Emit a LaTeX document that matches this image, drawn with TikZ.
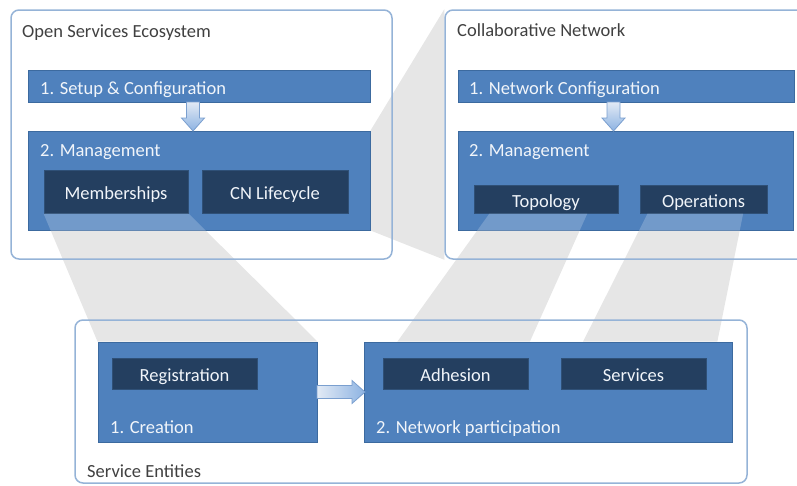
\documentclass[tikz,border=0pt]{standalone}
\usepackage{fontspec}
\setmainfont{Carlito}
\usetikzlibrary{calc,backgrounds}
\definecolor{cebox}{HTML}{4F81BD}
\definecolor{ceedge}{HTML}{3C6A9F}
\definecolor{cedark}{HTML}{243F60}
\definecolor{ceframe}{HTML}{95B3D7}
\definecolor{ceband}{HTML}{E6E6E6}
\definecolor{cetext}{HTML}{404040}
\definecolor{cearrowtop}{HTML}{E2EAF5}
\definecolor{cearrowbot}{HTML}{8DB3E2}
\definecolor{cearrowedge}{HTML}{7A9FCF}

\begin{document}
\begin{tikzpicture}[x=1pt, y=-1pt, font=\fontsize{18.5}{22}\selectfont,
    groupframe/.style={rectangle, draw=ceframe, line width=1.5pt, rounded corners=8pt, inner sep=0pt},
    stagebox/.style={rectangle, draw=ceedge, fill=cebox, line width=1pt, inner sep=0pt},
    taskbox/.style={rectangle, draw=cedark!75!cebox, fill=cedark, line width=1pt, inner sep=0pt,
        text=white!92!cebox, text height=16pt, text depth=0pt},
    grouptitle/.style={anchor=base west, inner sep=0pt, text=cetext},
    steplabel/.style={anchor=base west, inner sep=0pt, text=white!92!cebox},
    zoomband/.style={fill=ceband},
    bandlight/.style={fill=white, opacity=0.2},
    blockarrow/.style={draw=cearrowedge, line width=0.8pt, top color=cearrowtop, bottom color=cearrowbot}]

    \clip (0,0) rectangle (797,485);

    % Open Services Ecosystem
    \node[groupframe, minimum width=381pt, minimum height=249pt] (ose) at (201.5,134.5) {};
    \node[grouptitle] (osetitle) at (22,37) {Open Services Ecosystem};
    \node[stagebox, minimum width=342pt, minimum height=32pt] (osesetup) at (199,86) {};
    \node[steplabel] (osesetuplbl) at (40,94) {1. Setup \& Configuration};
    \node[stagebox, minimum width=342pt, minimum height=99pt] (osemgmt) at (199,180.5) {};
    \node[steplabel] (osemgmtlbl) at (40,156) {2. Management};

    % Collaborative Network
    \node[groupframe, minimum width=367pt, minimum height=249pt] (cnet) at (628.5,134.5) {};
    \node[grouptitle] (cnettitle) at (457,36) {Collaborative Network};
    \node[stagebox, minimum width=336pt, minimum height=32pt] (cnetcfg) at (626,86) {};
    \node[steplabel] (cnetcfglbl) at (469,94) {1. Network Configuration};
    \node[stagebox, minimum width=335pt, minimum height=99pt] (cnetmgmt) at (625.5,180.5) {};
    \node[steplabel] (cnetmgmtlbl) at (469,156) {2. Management};

    % Service Entities
    \node[groupframe, minimum width=672pt, minimum height=163pt] (sent) at (411,401.5) {};
    \node[grouptitle] (senttitle) at (87,477) {Service Entities};
    \node[stagebox, minimum width=219pt, minimum height=100pt] (creation) at (207.5,392) {};
    \node[steplabel] (creationlbl) at (110,433) {1. Creation};
    \node[stagebox, minimum width=368pt, minimum height=100pt] (netpart) at (548,392) {};
    \node[steplabel] (netpartlbl) at (376,433) {2. Network participation};

    % inner tasks
    \node[taskbox, minimum width=144pt, minimum height=43pt] (memb) at (116,191.5) {Memberships};
    \node[taskbox, minimum width=146pt, minimum height=43pt] (cnlife) at (275,191.5) {CN Lifecycle};
    \node[taskbox, minimum width=144pt, minimum height=28pt] (topo) at (546,199) {Topology};
    \node[taskbox, minimum width=127pt, minimum height=28pt] (oper) at (703.5,199) {Operations};
    \node[taskbox, minimum width=145pt, minimum height=31pt] (regis) at (184.5,373.5) {Registration};
    \node[taskbox, minimum width=145pt, minimum height=31pt] (adhes) at (455.5,373.5) {Adhesion};
    \node[taskbox, minimum width=145pt, minimum height=31pt] (servs) at (633.5,373.5) {Services};

    % band end points
    \coordinate (topoa) at ($(topo.south west)!0.11!(topo.south east)$);
    \coordinate (topob) at ($(topo.south west)!0.785!(topo.south east)$);
    \coordinate (opera) at ($(oper.south west)!0.063!(oper.south east)$);
    \coordinate (operb) at ($(oper.south west)!0.81!(oper.south east)$);
    \coordinate (adhesa) at ($(netpart.north west)!0.092!(netpart.north east)$);
    \coordinate (adhesb) at ($(netpart.north west)!0.451!(netpart.north east)$);
    \coordinate (servsa) at ($(netpart.north west)!0.595!(netpart.north east)$);
    \coordinate (servsb) at ($(netpart.north west)!0.959!(netpart.north east)$);

    % zoom bands
    \begin{pgfonlayer}{background}
        \fill[zoomband] (osemgmt.north east) -- (cnet.north west) -- (cnet.south west) -- (osemgmt.south east) -- cycle;
        \fill[zoomband] (memb.south west) -- (memb.south east) -- (creation.north east) -- (creation.north west) -- cycle;
        \fill[zoomband] (topoa) -- (topob) -- (adhesb) -- (adhesa) -- cycle;
        \fill[zoomband] (opera) -- (operb) -- (servsb) -- (servsa) -- cycle;
    \end{pgfonlayer}

    % bands seen over the management boxes
    \begin{scope}
        \clip (osemgmt.west |- memb.south) rectangle (osemgmt.south east);
        \fill[bandlight] (memb.south west) -- (memb.south east) -- (creation.north east) -- (creation.north west) -- cycle;
    \end{scope}
    \begin{scope}
        \clip (cnetmgmt.west |- topo.south) rectangle (cnetmgmt.south east);
        \fill[bandlight] (topoa) -- (topob) -- (adhesb) -- (adhesa) -- cycle;
        \fill[bandlight] (opera) -- (operb) -- (servsb) -- (servsa) -- cycle;
    \end{scope}

    % block arrows
    \shade[blockarrow] (186.5,102) -- (199.5,102) -- (199.5,118) -- (204.5,118) -- (193,131) -- (181.5,118) -- (186.5,118) -- cycle;
    \shade[blockarrow] (607,102) -- (620,102) -- (620,118) -- (625,118) -- (613.5,131) -- (602,118) -- (607,118) -- cycle;
    \shade[blockarrow, left color=cearrowtop, right color=cearrowbot] (317,385.5) -- (352,385.5) -- (352,380.5) -- (365,392) -- (352,403.5) -- (352,398.5) -- (317,398.5) -- cycle;
\end{tikzpicture}
\end{document}
